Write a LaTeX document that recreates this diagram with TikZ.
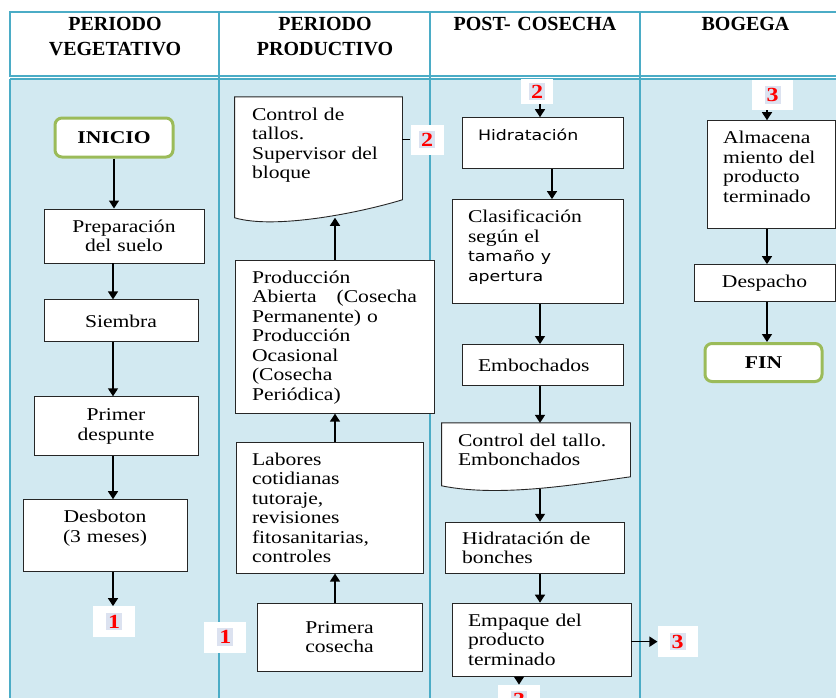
\documentclass[tikz,border=0pt]{standalone}
\usepackage{fontspec}
\setmainfont{Liberation Serif}[FakeStretch=1.2]
\newfontfamily\headfont{Liberation Serif}
\newfontfamily\dvsans{DejaVu Sans}[FakeStretch=1.2]
\usetikzlibrary{positioning, arrows.meta}

\definecolor{tblline}{RGB}{75,172,198}
\definecolor{tblfill}{RGB}{210,233,241}
\definecolor{startgreen}{RGB}{155,187,89}
\definecolor{tagbg}{RGB}{220,226,240}

\pgfdeclarelayer{bg}
\pgfdeclarelayer{docs}
\pgfsetlayers{bg,docs,main}

\tikzset{
  box/.style={draw=black!85, line width=0.9pt, fill=white, inner xsep=0pt, inner ysep=4pt, font=\fontsize{18}{19.5}\selectfont},
  lbox/.style={box, align=left},
  cbox/.style={box, align=center},
  topl/.style={text height=19pt, text depth=#1},
  docline/.style={draw=black!85, line width=0.9pt, fill=white},
  term/.style={draw=startgreen, line width=3pt, rounded corners=7pt, fill=white, minimum width=118pt, minimum height=39pt, font=\fontsize{18}{19.5}\selectfont\bfseries},
  tag/.style={fill=white, inner sep=0pt, minimum width=42pt, minimum height=31pt, font=\fontsize{20}{20}\selectfont\bfseries\color{red}},
  arr/.style={-{Triangle[length=8pt,width=10pt]}, line width=1.4pt},
  head/.style={font=\fontsize{20}{25}\headfont\bfseries, text width=200pt, align=center, anchor=base},
}
\newcommand{\tagnum}[1]{\fboxsep=2pt\colorbox{tagbg}{#1}}
\newcommand{\sanstext}[1]{{\fontsize{14.5}{19.5}\dvsans #1}}

\begin{document}
\begin{tikzpicture}[x=1pt, y=1pt]
\useasboundingbox (0,0) rectangle (836,-697);

% table
\begin{pgfonlayer}{bg}
\fill[tblfill] (10,-78.5) rectangle (851,-720);
\draw[tblline, line width=1.5pt] (10,-12) rectangle (851,-76);
\draw[tblline, line width=2pt] (10,-78.5) -- (851,-78.5);
\draw[tblline, line width=1.5pt] (10,-78.5) -- (10,-720);
\foreach \x in {219,430,640}
  \draw[tblline, line width=1.5pt] (\x,-12) -- (\x,-720);
\end{pgfonlayer}

\node[head] (hA) at (115,-30) {PERIODO\\VEGETATIVO};
\node[head] (hB) at (325,-30) {PERIODO\\PRODUCTIVO};
\node[head] (hC) at (535,-30) {POST- COSECHA};
\node[head] (hD) at (745.5,-30) {BOGEGA};

\coordinate (spA) at (113,0);
\coordinate (spB) at (335,0);
\coordinate (spC) at (540,0);
\coordinate (spC2) at (552,0);
\coordinate (spD) at (767,0);

% periodo vegetativo
\node[term] (inicio) at (114,-137.5) {INICIO};
\node[cbox, minimum width=160pt, text width=150pt, minimum height=54pt, below=50pt of inicio, xshift=10pt] (prep) {Preparación\\del suelo};
\node[cbox, minimum width=154pt, text width=144pt, minimum height=42pt, below=36pt of prep, xshift=-3pt] (siembra) {Siembra};
\node[cbox, minimum width=164pt, text width=154pt, minimum height=59pt, below=54pt of siembra, xshift=-5pt] (despunte) {Primer\\despunte};
\node[cbox, minimum width=164pt, text width=154pt, minimum height=72pt, topl=45pt, below=43pt of despunte, xshift=-11pt] (desboton) {Desboton\\(3 meses)};
\node[tag, below=34pt of desboton, xshift=9pt] (tagA) {\tagnum{1}};

% periodo productivo
\node[cbox, minimum width=165pt, text width=150pt, minimum height=68pt] (primera) at (339.5,-637) {Primera\\cosecha};
\node[tag, left=10pt of primera] (tagB) {\tagnum{1}};
\node[lbox, minimum width=187pt, text width=155pt, minimum height=131pt, topl=104pt, above=29pt of primera, xshift=-10pt] (labores) {Labores\\cotidianas\\tutoraje,\\revisiones\\fitosanitarias,\\controles};
\node[lbox, minimum width=199pt, text width=165pt, minimum height=153pt, topl=126pt, above=28pt of labores, xshift=5pt] (prod) {Producción\\Abierta\hfill(Cosecha\\Permanente) o\\Producción\\Ocasional\\(Cosecha\\Periódica)};
\node[lbox, minimum width=167pt, text width=133pt, minimum height=128pt, topl=101pt, draw=none, fill=none, above=34pt of prod, xshift=-16pt] (ctrl) {Control de\\tallos.\\Supervisor del\\bloque};
\node[tag, minimum width=33pt, minimum height=30pt, right=8pt of ctrl, yshift=21.5pt] (tagC) {\tagnum{2}};
\coordinate (ctrlwave) at ([yshift=8pt]ctrl.south);

% post-cosecha
\node[tag, minimum width=32pt, minimum height=25pt] (tagD) at (537,-91.5) {\tagnum{2}};
\node[lbox, minimum width=161pt, text width=129pt, minimum height=51pt, topl=24pt, font=\fontsize{14.5}{19.5}\dvsans, below=13pt of tagD, xshift=5.5pt] (hidra) {Hidratación};
\node[lbox, minimum width=171pt, text width=139pt, minimum height=104pt, topl=77pt, below=30pt of hidra, xshift=-5pt] (clasif) {Clasificación\\según el\\\sanstext{tamaño y}\\\sanstext{apertura}};
\node[lbox, minimum width=161pt, text width=129pt, minimum height=41pt, below=40pt of clasif, xshift=5pt] (embo) {Embochados};
\node[lbox, minimum width=188pt, text width=156pt, minimum height=67pt, topl=40pt, draw=none, fill=none, below=37pt of embo, xshift=-6.5pt] (ctrlB) {Control del tallo.\\Embonchados};
\coordinate (ctrlBwave) at ([yshift=2pt]ctrlB.south);
\node[lbox, minimum width=179pt, text width=145pt, minimum height=51pt, below=31pt of ctrlB, xshift=-1.5pt] (bonch) {Hidratación de\\bonches};
\node[lbox, minimum width=179pt, text width=147pt, minimum height=73pt, topl=46pt, below=29pt of bonch, xshift=7pt] (empaque) {Empaque del\\producto\\terminado};
\node[tag, minimum width=40pt, right=26pt of empaque, yshift=-2pt] (tagE) {\tagnum{3}};
\node[tag, minimum height=30pt, below=8pt of empaque, xshift=-22.5pt] (tagF) {\tagnum{3}};

% bodega
\node[tag, minimum width=41pt, minimum height=30pt] (tagG) at (772.5,-95) {\tagnum{3}};
\node[lbox, minimum width=128pt, text width=96pt, minimum height=108pt, topl=81pt, below=10pt of tagG, xshift=-1.5pt] (alma) {Almacena\\miento del\\producto\\terminado};
\node[cbox, minimum width=141pt, text width=131pt, minimum height=37pt, below=35pt of alma, xshift=-6.5pt] (desp) {Despacho};
\node[term, minimum width=117pt, minimum height=38pt, below=40pt of desp, xshift=-1pt] (fin) {FIN};

% document shapes
\begin{pgfonlayer}{docs}
\draw[docline] (ctrl.north west) -- (ctrl.north east) -- ([yshift=26pt]ctrl.south east)
  .. controls ([xshift=41.5pt,yshift=13pt]ctrl.south) and ([xshift=-43.5pt,yshift=-4pt]ctrl.south) .. ([yshift=8pt]ctrl.south west) -- cycle;
\draw[docline] (ctrlB.north west) -- (ctrlB.north east) -- ([yshift=14pt]ctrlB.south east)
  .. controls ([xshift=44pt,yshift=7pt]ctrlB.south) and ([xshift=-36pt,yshift=-7pt]ctrlB.south) .. ([yshift=5pt]ctrlB.south west) -- cycle;
\end{pgfonlayer}

% arrows
\draw[arr] (inicio) -- (inicio |- prep.north);
\draw[arr] (prep.south -| spA) -- (siembra.north -| spA);
\draw[arr] (siembra.south -| spA) -- (despunte.north -| spA);
\draw[arr] (despunte.south -| spA) -- (desboton.north -| spA);
\draw[arr] (desboton.south -| spA) -- (tagA.north -| spA);

\draw[arr] (primera.north -| spB) -- (labores.south -| spB);
\draw[arr] (labores.north -| spB) -- (prod.south -| spB);
\draw[arr] (prod.north -| spB) -- (spB |- ctrlwave);
\draw[line width=0.9pt] (ctrl.east |- tagC) -- (tagC);

\draw[arr] (tagD.south -| spC) -- (hidra.north -| spC);
\draw[arr] (hidra.south -| spC2) -- (clasif.north -| spC2);
\draw[arr] (clasif.south -| spC) -- (embo.north -| spC);
\draw[arr] (embo.south -| spC) -- (ctrlB.north -| spC);
\draw[arr] (spC |- ctrlBwave) -- (bonch.north -| spC);
\draw[arr] (bonch.south -| spC) -- (empaque.north -| spC);
\draw[arr] (empaque.east |- tagE) -- (tagE);
\draw[arr] (empaque.south -| tagF) -- (tagF);

\draw[arr] (tagG.south -| spD) -- (alma.north -| spD);
\draw[arr] (alma.south -| spD) -- (desp.north -| spD);
\draw[arr] (desp.south -| spD) -- (fin.north -| spD);
\end{tikzpicture}
\end{document}
